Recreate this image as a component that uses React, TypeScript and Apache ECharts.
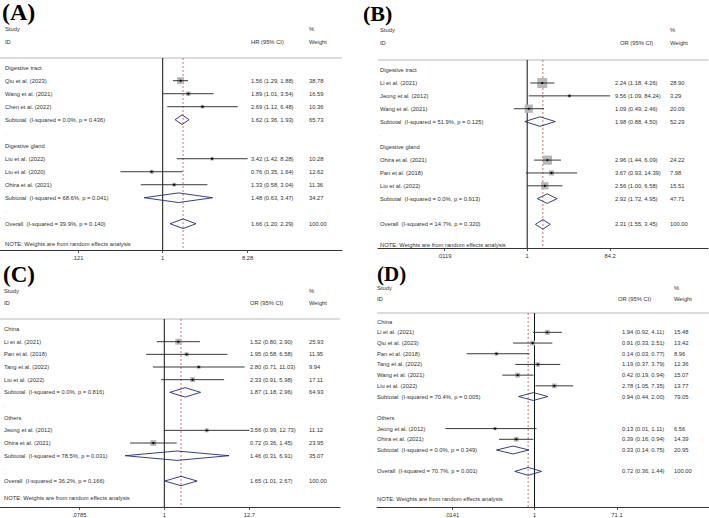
import React, { useEffect, useRef } from "react";
import * as echarts from "echarts";

// ---------- DATA ----------
// Panel A (HR)
const aLabels = ["Digestive tract", "Qiu et al. (2023)", "Wang et al. (2021)", "Chen et al. (2022)", "Subtotal  (I-squared = 0.0%, p = 0.436)", ".", "Digestive gland", "Liu et al. (2022)", "Liu et al. (2020)", "Ohira et al. (2021)", "Subtotal  (I-squared = 68.6%, p = 0.041)", ".", "Overall  (I-squared = 39.9%, p = 0.140)"];
const aKinds = ["g", "s", "s", "s", "d", "b", "g", "s", "s", "s", "d", "b", "o"];
const aEst = [null, 1.56, 1.89, 2.69, 1.62, null, null, 3.42, 0.76, 1.33, 1.48, null, 1.66];
const aLow = [null, 1.29, 1.01, 1.12, 1.36, null, null, 1.42, 0.35, 0.58, 0.63, null, 1.2];
const aHigh = [null, 1.88, 3.54, 6.48, 1.93, null, null, 8.28, 1.64, 3.04, 3.47, null, 2.29];
const aWeight = [null, 38.78, 16.59, 10.36, 65.73, null, null, 10.28, 12.62, 11.36, 34.27, null, 100.0];
const aTicks = [0.121, 1, 8.28];
const aTickLabels = [".121", "1", "8.28"];

// Panel B (OR)
const bLabels = ["Digestive tract", "Li et al. (2021)", "Jeong et al. (2012)", "Wang et al. (2021)", "Subtotal  (I-squared = 51.9%, p = 0.125)", ".", "Digestive gland", "Ohira et al. (2021)", "Pan et al. (2018)", "Liu et al. (2022)", "Subtotal  (I-squared = 0.0%, p = 0.913)", ".", "Overall  (I-squared = 14.7%, p = 0.320)"];
const bKinds = ["g", "s", "s", "s", "d", "b", "g", "s", "s", "s", "d", "b", "o"];
const bEst = [null, 2.24, 9.56, 1.09, 1.98, null, null, 2.96, 3.67, 2.56, 2.92, null, 2.31];
const bLow = [null, 1.18, 1.09, 0.49, 0.88, null, null, 1.44, 0.93, 1.0, 1.72, null, 1.55];
const bHigh = [null, 4.26, 84.24, 2.46, 4.5, null, null, 6.09, 14.39, 6.58, 4.95, null, 3.45];
const bWeight = [null, 28.9, 3.29, 20.09, 52.29, null, null, 24.22, 7.98, 15.51, 47.71, null, 100.0];
const bTicks = [0.0119, 1, 84.2];
const bTickLabels = [".0119", "1", "84.2"];

// Panel C (OR)
const cLabels = ["China", "Li et al. (2021)", "Pan et al. (2018)", "Tang et al. (2022)", "Liu et al. (2022)", "Subtotal  (I-squared = 0.0%, p = 0.816)", ".", "Others", "Jeong et al. (2012)", "Ohira et al. (2021)", "Subtotal  (I-squared = 78.5%, p = 0.031)", ".", "Overall  (I-squared = 36.2%, p = 0.166)"];
const cKinds = ["g", "s", "s", "s", "s", "d", "b", "g", "s", "s", "d", "b", "o"];
const cEst = [null, 1.52, 1.95, 2.8, 2.33, 1.87, null, null, 3.56, 0.72, 1.46, null, 1.65];
const cLow = [null, 0.8, 0.58, 0.71, 0.91, 1.18, null, null, 0.99, 0.36, 0.31, null, 1.01];
const cHigh = [null, 2.9, 6.58, 11.03, 5.98, 2.96, null, null, 12.73, 1.45, 6.91, null, 2.67];
const cWeight = [null, 25.93, 11.95, 9.94, 17.11, 64.93, null, null, 11.12, 23.95, 35.07, null, 100.0];
const cTicks = [0.0785, 1, 12.7];
const cTickLabels = [".0785", "1", "12.7"];

// Panel D (OR)
const dLabels = ["China", "Li et al. (2021)", "Qiu et al. (2023)", "Pan et al. (2018)", "Tang et al. (2022)", "Wang et al. (2021)", "Liu et al. (2022)", "Subtotal  (I-squared = 70.4%, p = 0.005)", ".", "Others", "Jeong et al. (2012)", "Ohira et al. (2021)", "Subtotal  (I-squared = 0.0%, p = 0.349)", ".", "Overall  (I-squared = 70.7%, p = 0.001)"];
const dKinds = ["g", "s", "s", "s", "s", "s", "s", "d", "b", "g", "s", "s", "d", "b", "o"];
const dEst = [null, 1.94, 0.91, 0.14, 1.19, 0.42, 2.78, 0.94, null, null, 0.13, 0.39, 0.33, null, 0.72];
const dLow = [null, 0.92, 0.33, 0.03, 0.37, 0.19, 1.05, 0.44, null, null, 0.01, 0.16, 0.14, null, 0.36];
const dHigh = [null, 4.11, 2.51, 0.77, 3.79, 0.94, 7.35, 2.0, null, null, 1.11, 0.94, 0.75, null, 1.44];
const dWeight = [null, 15.48, 13.42, 8.96, 12.36, 15.07, 13.77, 79.05, null, null, 6.56, 14.39, 20.95, null, 100.0];
const dTicks = [0.0141, 1, 71.1];
const dTickLabels = [".0141", "1", "71.1"];

const noteText = "NOTE: Weights are from random effects analysis";

// ---------- LAYOUT ----------
const FONT = "Liberation Sans, Arial, sans-serif";
const FS = 5.8;
const TXT = "#333";

const panels = [
  {
    title: "(A)", titleX: 2, titleY: 0, titleSize: 24, effect: "HR (95% CI)",
    labels: aLabels, kinds: aKinds, est: aEst, low: aLow, high: aHigh, weight: aWeight, ticks: aTicks, tickLabels: aTickLabels,
    grid: { left: 0, top: 58, width: 342, height: 192 }, xMin: -4.047, xMax: 4.46, yMin: -0.746, yMax: 14.02,
    labelX: 5, estX: 251, hdrEstX: 251, wX: 309, hdr1: -2.98, hdr2: -1.98, noteRow: 13.58, boxK: 1.12,
  },
  {
    title: "(B)", titleX: 363, titleY: 2, titleSize: 22, effect: "OR (95% CI)",
    labels: bLabels, kinds: bKinds, est: bEst, low: bLow, high: bHigh, weight: bWeight, ticks: bTicks, tickLabels: bTickLabels,
    grid: { left: 378, top: 60, width: 330, height: 188 }, xMin: -7.98, xMax: 9.67, yMin: -0.79, yMax: 13.84,
    labelX: 380, estX: 615, hdrEstX: 620, wX: 670, hdr1: -3.16, hdr2: -2.13, noteRow: 13.58, boxK: 1.85,
  },
  {
    title: "(C)", titleX: 3, titleY: 263, titleSize: 23, effect: "OR (95% CI)",
    labels: cLabels, kinds: cKinds, est: cEst, low: cLow, high: cHigh, weight: cWeight, ticks: cTicks, tickLabels: cTickLabels,
    grid: { left: 0, top: 319, width: 340, height: 188 }, xMin: -4.913, xMax: 5.254, yMin: -0.79, yMax: 14.05,
    labelX: 4, estX: 250, hdrEstX: 250, wX: 309, hdr1: -3.02, hdr2: -2.05, noteRow: 13.34, boxK: 1.18,
  },
  {
    title: "(D)", titleX: 377, titleY: 263, titleSize: 21, effect: "OR (95% CI)",
    labels: dLabels, kinds: dKinds, est: dEst, low: dLow, high: dHigh, weight: dWeight, ticks: dTicks, tickLabels: dTickLabels,
    grid: { left: 377, top: 313, width: 332, height: 195 }, xMin: -8.14, xMax: 9.02, yMin: -0.81, yMax: 17.33,
    labelX: 377, estX: 622, hdrEstX: 618, wX: 674, hdr1: -3.13, hdr2: -2.11, noteRow: 16.58, boxK: 1.27,
  },
];

const txt = (x: number, y: number, text: string, opts: any = {}) => ({
  type: "text",
  x,
  y,
  style: {
    text,
    fill: opts.fill || TXT,
    fontSize: opts.fontSize || FS,
    fontFamily: FONT,
    align: opts.align || "left",
    verticalAlign: "middle",
  },
});

function buildOption() {
  const grids: any[] = [];
  const xAxes: any[] = [];
  const yAxes: any[] = [];
  const series: any[] = [];
  const graphics: any[] = [];

  panels.forEach((P, pi) => {
    grids.push({ ...P.grid, containLabel: false });
    const tickVals = P.ticks.map((t) => Math.log(t));
    xAxes.push({
      type: "value",
      gridIndex: pi,
      min: P.xMin,
      max: P.xMax,
      axisLine: { show: true, onZero: false, lineStyle: { color: "#333", width: 1 } },
      axisTick: { show: true, customValues: tickVals, length: 3, lineStyle: { color: "#333", width: 0.8 } },
      axisLabel: {
        show: true,
        customValues: tickVals,
        fontSize: FS,
        fontFamily: FONT,
        color: TXT,
        margin: 5,
        formatter: (v: number) => {
          let best = 0;
          tickVals.forEach((tv, k) => {
            if (Math.abs(tv - v) < Math.abs(tickVals[best] - v)) best = k;
          });
          return P.tickLabels[best];
        },
      },
      splitLine: { show: false },
    });
    yAxes.push({ type: "value", gridIndex: pi, inverse: true, min: P.yMin, max: P.yMax, show: false, axisLine: { onZero: false } });

    graphics.push({
      type: "text",
      left: P.titleX,
      top: P.titleY,
      style: { text: P.title, font: `bold ${P.titleSize}px "Liberation Serif", "Times New Roman", serif`, fill: "#000" },
    });

    const overallIdx = P.kinds.indexOf("o");
    const overall = P.est[overallIdx] as number;

    // frame: header texts, top rule, null line, overall dashed line, note
    series.push({
      type: "custom",
      xAxisIndex: pi,
      yAxisIndex: pi,
      clip: false,
      silent: true,
      z: 1,
      data: [[0, 0]],
      renderItem: (params: any, api: any) => {
        const cs = params.coordSys;
        const x0 = api.coord([0, 0])[0];
        const xo = api.coord([Math.log(overall), 0])[0];
        const yh1 = api.coord([0, P.hdr1])[1];
        const yh2 = api.coord([0, P.hdr2])[1];
        const yn = api.coord([0, P.noteRow])[1];
        const top = cs.y;
        const bot = cs.y + cs.height;
        return {
          type: "group",
          children: [
            { type: "line", shape: { x1: cs.x, y1: top, x2: cs.x + cs.width, y2: top }, style: { stroke: "#d0d0d0", lineWidth: 1.5 } },
            { type: "line", shape: { x1: x0, y1: top, x2: x0, y2: bot }, style: { stroke: "#111", lineWidth: 1 } },
            { type: "line", shape: { x1: xo, y1: top, x2: xo, y2: bot }, style: { stroke: "#c0504d", lineWidth: 0.8, lineDash: [2, 2] } },
            txt(P.labelX, yh1, "Study"),
            txt(P.labelX, yh2, "ID"),
            txt(P.hdrEstX, yh2, P.effect),
            txt(P.wX, yh1, "%"),
            txt(P.wX, yh2, "Weight"),
            txt(P.labelX, yn, noteText),
          ],
        };
      },
    });

    // rows
    series.push({
      type: "custom",
      xAxisIndex: pi,
      yAxisIndex: pi,
      clip: false,
      silent: true,
      z: 2,
      data: P.labels.map((_, i) => [0, i]),
      renderItem: (params: any, api: any) => {
        const i = params.dataIndex;
        const kind = P.kinds[i];
        const cy = api.coord([0, i])[1];
        const rowH = api.size([0, 1])[1];
        const children: any[] = [];
        children.push(txt(P.labelX, cy, P.labels[i], kind === "b" ? { fill: "#aaa" } : {}));
        const est = P.est[i];
        if (est != null) {
          const lo = P.low[i] as number;
          const hi = P.high[i] as number;
          const w = P.weight[i] as number;
          children.push(txt(P.estX, cy, `${est.toFixed(2)} (${lo.toFixed(2)}, ${hi.toFixed(2)})`));
          children.push(txt(P.wX, cy, w.toFixed(2)));
          const xe = api.coord([Math.log(est), i])[0];
          const xl = api.coord([Math.log(lo), i])[0];
          const xh = api.coord([Math.log(hi), i])[0];
          if (kind === "s") {
            const s = P.boxK * Math.sqrt(w);
            children.push({ type: "rect", shape: { x: xe - s / 2, y: cy - s / 2, width: s, height: s }, style: { fill: "#b8b8b8" } });
            children.push({ type: "line", shape: { x1: xl, y1: cy, x2: xh, y2: cy }, style: { stroke: "#222", lineWidth: 0.9 } });
            children.push({ type: "circle", shape: { cx: xe, cy, r: 1.1 }, style: { fill: "#000" } });
          } else {
            const h = rowH * 0.37;
            children.push({
              type: "polygon",
              shape: { points: [[xl, cy], [xe, cy - h], [xh, cy], [xe, cy + h]] },
              style: { fill: "none", stroke: "#1f2a7d", lineWidth: 0.9 },
            });
          }
        }
        return { type: "group", children };
      },
    });
  });

  return {
    animation: false,
    backgroundColor: "#fff",
    grid: grids,
    xAxis: xAxes,
    yAxis: yAxes,
    series,
    graphic: graphics,
  };
}

export default function App() {
  const ref = useRef<HTMLDivElement>(null);
  useEffect(() => {
    if (!ref.current) return;
    const chart = echarts.init(ref.current, undefined, { renderer: "svg" });
    chart.setOption(buildOption() as any);
    return () => chart.dispose();
  }, []);
  return <div ref={ref} style={{ position: "fixed", left: 0, top: 0, width: 709, height: 518, background: "#fff" }} />;
}
